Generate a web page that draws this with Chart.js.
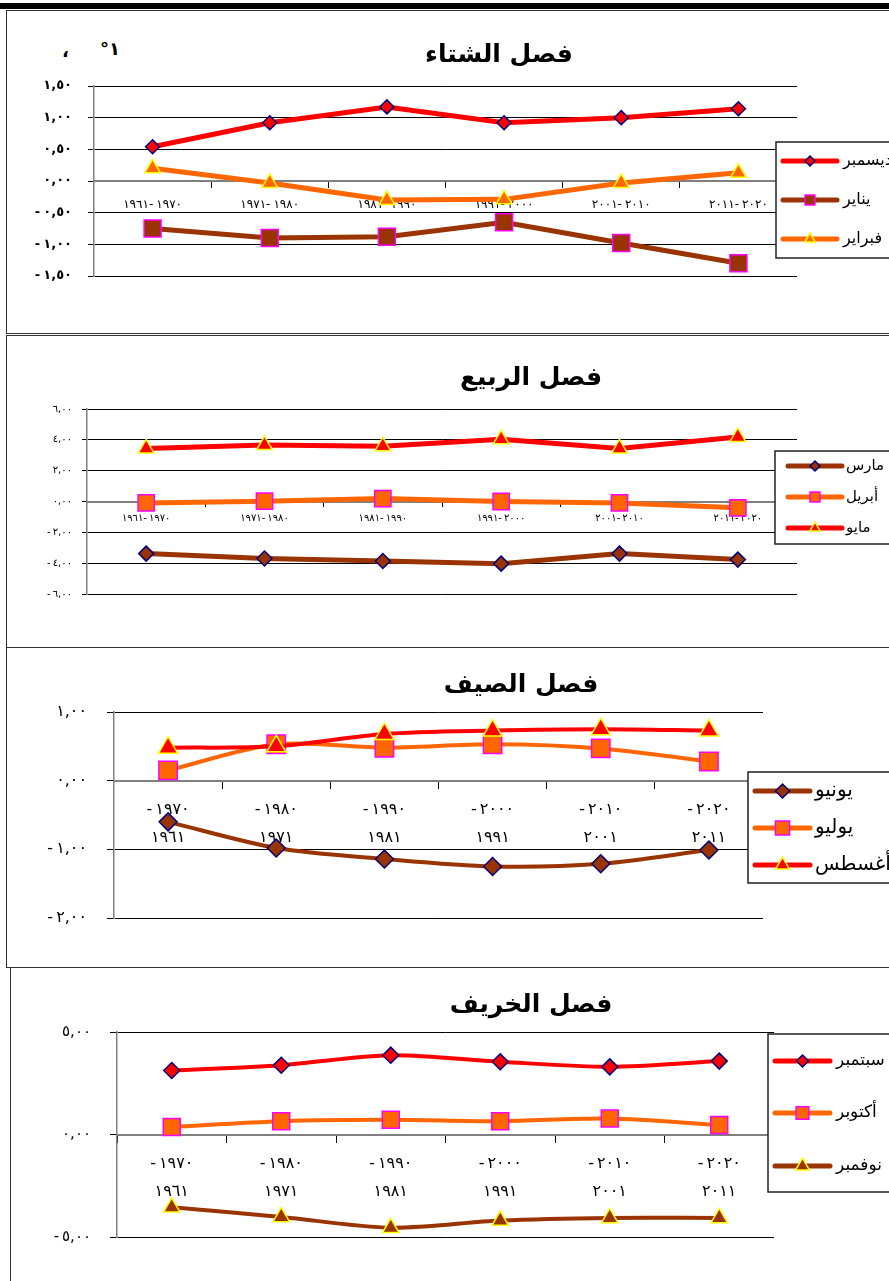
<!DOCTYPE html>
<html>
<head>
<meta charset="utf-8">
<title>Seasons</title>
<script src="https://cdn.jsdelivr.net/npm/chart.js@4/dist/chart.umd.min.js"></script>
<style>
  html, body { margin:0; padding:0; background:#fff; }
  body { width:889px; height:1281px; position:relative; overflow:hidden; font-family:"DejaVu Sans", sans-serif; }
  .bar { position:absolute; left:0; top:3px; width:889px; height:6px; background:#000; }
  .frame { position:absolute; border:1.5px solid #333; width:1000px; box-sizing:border-box; }
  canvas { position:absolute; left:0; }
  .title { position:absolute; transform:translate(-50%,-50%); font-weight:bold; font-size:25px; direction:rtl; white-space:nowrap; }
  .stray { position:absolute; font-weight:bold; font-size:18px; }
</style>
</head>
<body>

<div class="bar"></div>
<div class="frame" style="left:6px; top:10px; height:324px;"></div>
<div class="frame" style="left:6px; top:335px; height:313px;"></div>
<div class="frame" style="left:6px; top:647px; height:321px;"></div>
<div class="frame" style="left:10px; top:967px; height:400px;"></div>

<div class="stray" style="left:62px; top:40px;">،</div>
<div class="stray" style="left:100px; top:38px;">°١</div>

<canvas id="winter" width="889" height="320" style="top:12px;"></canvas>
<canvas id="spring" width="889" height="309" style="top:337px;"></canvas>
<canvas id="summer" width="889" height="317" style="top:649px;"></canvas>
<canvas id="autumn" width="889" height="312" style="top:969px;"></canvas>

<div class="title" style="left:499px; top:53px;">فصل الشتاء</div>
<div class="title" style="left:531px; top:376px;">فصل الربيع</div>
<div class="title" style="left:521px; top:683px;">فصل الصيف</div>
<div class="title" style="left:531px; top:1003px;">فصل الخريف</div>

<script>
// ---- data ----
const decades = ['١٩٦١\u200E-\u200E١٩٧٠', '١٩٧١\u200E-\u200E١٩٨٠', '١٩٨١\u200E-\u200E١٩٩٠',
                 '١٩٩١\u200E-\u200E٢٠٠٠', '٢٠٠١\u200E-\u200E٢٠١٠', '٢٠١١\u200E-\u200E٢٠٢٠'];
const decadesTwoLine = [['-١٩٧٠', '١٩٦١'], ['-١٩٨٠', '١٩٧١'], ['-١٩٩٠', '١٩٨١'],
                        ['-٢٠٠٠', '١٩٩١'], ['-٢٠١٠', '٢٠٠١'], ['-٢٠٢٠', '٢٠١١']];

const winterNames = ['ديسمبر', 'يناير', 'فبراير'];
const december = [0.54, 0.92, 1.17, 0.92, 1.00, 1.14];
const january  = [-0.75, -0.90, -0.88, -0.65, -0.98, -1.30];
const february = [0.20, -0.03, -0.30, -0.29, -0.03, 0.13];

const springNames = ['مارس', 'أبريل', 'مايو'];
const march = [-3.38, -3.70, -3.86, -4.03, -3.38, -3.77];
const april = [-0.09, 0.02, 0.19, 0.00, -0.09, -0.41];
const may   = [3.44, 3.66, 3.59, 4.03, 3.44, 4.19];

const summerNames = ['يونيو', 'يوليو', 'أغسطس'];
const june   = [-0.60, -0.98, -1.14, -1.25, -1.21, -1.01];
const july   = [0.15, 0.53, 0.48, 0.53, 0.47, 0.28];
const august = [0.48, 0.50, 0.68, 0.73, 0.75, 0.73];

const autumnNames = ['سبتمبر', 'أكتوبر', 'نوفمبر'];
const september = [3.12, 3.38, 3.87, 3.55, 3.30, 3.58];
const october   = [0.37, 0.65, 0.72, 0.65, 0.78, 0.46];
const november  = [-3.55, -4.02, -4.55, -4.20, -4.07, -4.07];

// ---- colours ----
const RED = '#ff0000', BROWN = '#993300', ORANGE = '#ff6600';
const NAVY = '#000080', MAGENTA = '#ff00ff', YELLOW = '#ffff00';
const SHAPES = ['rectRot', 'rect', 'triangle'];
const EDGES = [NAVY, MAGENTA, YELLOW];
const AR_DIGITS = '٠١٢٣٤٥٦٧٨٩';

Chart.defaults.font.family = '"DejaVu Sans", sans-serif';
Chart.defaults.color = '#000';

function arNum(v) {
  const s = Math.abs(v).toFixed(2).replace('.', ',').replace(/\d/g, d => AR_DIGITS[d]);
  return (v < -1e-9 ? '-' : '') + s;
}

// legend box drawn over the plot, like the original sheet
const panelExtras = {
  id: 'panelExtras',
  beforeDraw(chart, args, o) {
    chart.ctx.letterSpacing = o.spacing;
  },
  afterDraw(chart, args, o) {
    const ctx = chart.ctx;
    ctx.save();
    ctx.letterSpacing = '0px';
    ctx.fillStyle = '#fff';
    ctx.fillRect(o.x, o.y, 300, o.h);
    ctx.strokeStyle = '#222';
    ctx.lineWidth = 1.5;
    ctx.strokeRect(o.x, o.y, 300, o.h);
    chart.data.datasets.forEach((ds, i) => {
      const y = o.rows[i];
      ctx.strokeStyle = ds.borderColor;
      ctx.lineWidth = 5;
      ctx.lineCap = 'round';
      ctx.beginPath();
      ctx.moveTo(o.x1, y);
      ctx.lineTo(o.x2, y);
      ctx.stroke();
      ctx.fillStyle = ds.pointBackgroundColor;
      ctx.strokeStyle = ds.pointBorderColor;
      ctx.lineWidth = 1.5;
      Chart.helpers.drawPoint(ctx, { pointStyle: ds.pointStyle, radius: o.marker[i], borderWidth: 1.5 }, (o.x1 + o.x2) / 2, y);
      ctx.fillStyle = '#000';
      ctx.font = o.size + 'px "DejaVu Sans"';
      ctx.textBaseline = 'middle';
      ctx.textAlign = 'left';
      ctx.fillText(ds.label, o.tx, y);
    });
    ctx.restore();
  }
};

function buildChart(id, c) {
  const datasets = c.series.map((s, i) => ({
    label: c.names[i],
    data: s,
    borderColor: c.colors[i],
    backgroundColor: c.colors[i],
    borderWidth: c.lineWidth,
    pointStyle: SHAPES[i],
    pointRadius: c.radius[i],
    pointBackgroundColor: c.colors[i],
    pointBorderColor: EDGES[i],
    pointBorderWidth: 1.5,
    tension: c.tension,
    order: 3 - i
  }));

  return new Chart(document.getElementById(id), {
    type: 'line',
    data: { labels: c.labels, datasets },
    plugins: [panelExtras],
    options: {
      responsive: false,
      animation: false,
      layout: { padding: c.padding },
      plugins: {
        legend: { display: false },
        tooltip: { enabled: false },
        panelExtras: c.legend
      },
      scales: {
        x: {
          type: 'category',
          position: { y: 0 },
          offset: true,
          border: { color: '#808080', width: 2 },
          grid: { offset: true, drawOnChartArea: false, color: '#000', tickLength: c.xTick },
          ticks: { font: { size: c.xFont, lineHeight: c.xLine }, padding: c.xPad, maxRotation: 0, autoSkip: false }
        },
        y: {
          min: c.min, max: c.max,
          afterFit(scale) { scale.width = c.yWidth; },
          border: { color: '#808080', width: 1.5 },
          grid: { color: '#000', lineWidth: 1, tickLength: c.yTick },
          ticks: { stepSize: c.step, callback: v => arNum(v), font: { size: c.yFont, weight: c.yWeight }, padding: c.yPad }
        }
      }
    }
  });
}

buildChart('winter', {
  labels: decades, names: winterNames, series: [december, january, february],
  colors: [RED, BROWN, ORANGE], radius: [7, 12, 9], lineWidth: 5, tension: 0,
  min: -1.5, max: 1.5, step: 0.5,
  padding: { left: 0, top: 74, right: 92, bottom: 56 }, yWidth: 94,
  xFont: 12, xLine: 1.2, xTick: 6, xPad: 11, yFont: 13, yWeight: 'bold', yTick: 6, yPad: 16,
  legend: { spacing: '3px', x: 776, y: 130, h: 116, rows: [149, 188, 227], x1: 783, x2: 837, tx: 843, size: 16, marker: [5, 7, 6] }
});

buildChart('spring', {
  labels: decades, names: springNames, series: [march, april, may],
  colors: [BROWN, ORANGE, RED], radius: [7.5, 11.5, 9], lineWidth: 5, tension: 0,
  min: -6, max: 6, step: 2,
  padding: { left: 0, top: 72, right: 92, bottom: 52 }, yWidth: 87,
  xFont: 10, xLine: 1.2, xTick: 4, xPad: 7, yFont: 10, yWeight: 'normal', yTick: 5, yPad: 10,
  legend: { spacing: '2px', x: 775, y: 114, h: 93, rows: [129, 160, 191], x1: 788, x2: 842, tx: 846, size: 15, marker: [5, 7, 6] }
});

buildChart('summer', {
  labels: decadesTwoLine, names: summerNames, series: [june, july, august],
  colors: [BROWN, ORANGE, RED], radius: [9, 13, 11], lineWidth: 4, tension: 0.3,
  min: -2, max: 1, step: 1,
  padding: { left: 0, top: 63, right: 126, bottom: 48 }, yWidth: 114,
  xFont: 16, xLine: 1.7, xTick: 7, xPad: 9, yFont: 16, yWeight: 'normal', yTick: 7, yPad: 20,
  legend: { spacing: '3px', x: 748, y: 123, h: 111, rows: [142, 179, 216], x1: 755, x2: 810, tx: 815, size: 20, marker: [7, 10, 8] }
});

buildChart('autumn', {
  labels: decadesTwoLine, names: autumnNames, series: [september, october, november],
  colors: [RED, ORANGE, BROWN], radius: [8, 12, 9.5], lineWidth: 4, tension: 0.3,
  min: -5, max: 5, step: 5,
  padding: { left: 0, top: 63, right: 115, bottom: 44 }, yWidth: 117,
  xFont: 16, xLine: 1.73, xTick: 7, xPad: 9, yFont: 15, yWeight: 'normal', yTick: 7, yPad: 19,
  legend: { spacing: '3px', x: 768, y: 65, h: 158, rows: [92, 144, 197], x1: 775, x2: 830, tx: 836, size: 17, marker: [6, 9, 8] }
});
</script>

</body>
</html>
